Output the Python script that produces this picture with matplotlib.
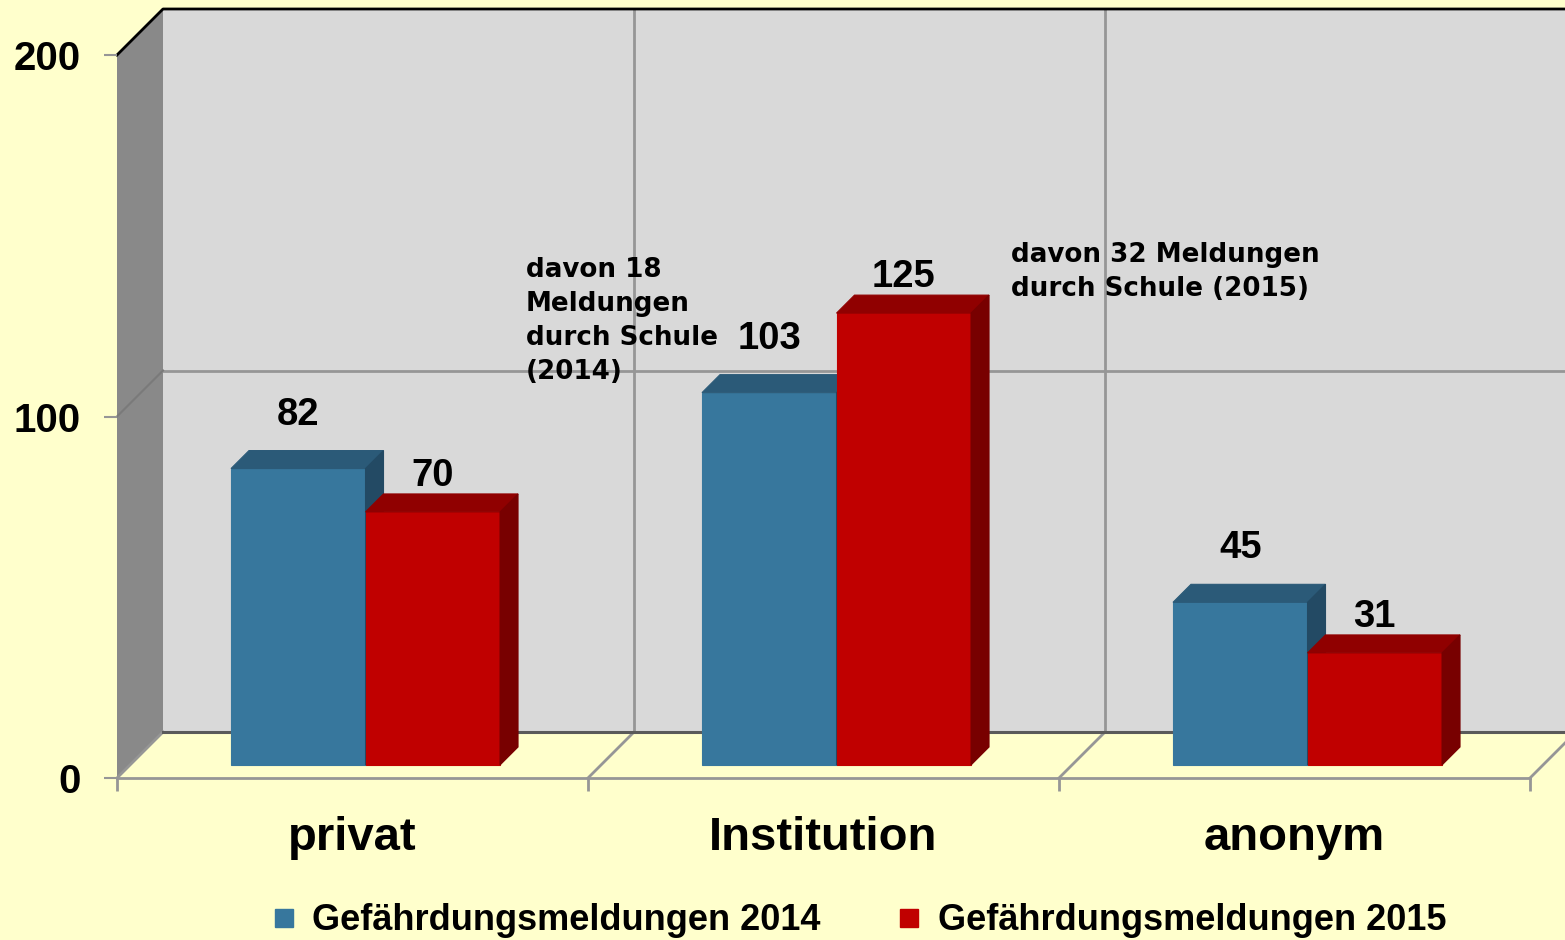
import matplotlib.pyplot as plt
from matplotlib.lines import Line2D
from matplotlib.patches import Polygon


categories = ["privat", "Institution", "anonym"]
series_names = ["Gefährdungsmeldungen 2014", "Gefährdungsmeldungen 2015"]
values_2014 = [82, 103, 45]
values_2015 = [70, 125, 31]
y_ticks = [0, 100, 200]
note_2014 = "davon 18\nMeldungen\ndurch Schule\n(2014)"
note_2015 = "davon 32 Meldungen\ndurch Schule (2015)"

BG = "#FFFFCC"
WALL = "#D9D9D9"
SIDE_WALL = "#898989"
GRID = "#969696"

# front, top, side shades for each series
BAR_COLORS = [
    ("#37779D", "#2B5A78", "#234A64"),
    ("#C00000", "#900000", "#780000"),
]

# pseudo 3d depth, expressed in data units (category units / value units)
DX = 46 / 471
DY = 46 / 3.615
BAR_W = 0.2856
F_FRONT = 0.283
F_BACK = 0.674
LABEL_OFF = [54, 36]

NUM_FONT = "Liberation Sans"
NOTE_FONT = "DejaVu Sans"


def add_poly(ax, pts, color, z, edge=None, lw=0.0):
    ax.add_patch(Polygon(pts, closed=True, facecolor=color,
                         edgecolor=edge if edge else color, linewidth=lw,
                         zorder=z, clip_on=False))


def draw_box(ax, x0, value, colors, z):
    front, top, side = colors
    dd = F_BACK - F_FRONT
    yb = F_FRONT * DY
    yt = value + F_FRONT * DY
    ox, oy = dd * DX, dd * DY
    add_poly(ax, [(x0, yb), (x0 + BAR_W, yb), (x0 + BAR_W, yt), (x0, yt)], front, z, lw=0.8)
    add_poly(ax, [(x0, yt), (x0 + BAR_W, yt), (x0 + BAR_W + ox, yt + oy), (x0 + ox, yt + oy)], top, z, lw=0.8)
    add_poly(ax, [(x0 + BAR_W, yb), (x0 + BAR_W + ox, yb + oy),
                  (x0 + BAR_W + ox, yt + oy), (x0 + BAR_W, yt)], side, z, lw=0.8)
    return x0 + BAR_W / 2, yt


def main():
    fig = plt.figure(figsize=(15.65, 9.4), dpi=100)
    fig.patch.set_facecolor(BG)
    ax = fig.add_axes([117 / 1565, 162 / 940, 1413 / 1565, 723 / 940])
    ax.set_facecolor("none")
    n = len(categories)
    ax.set_xlim(0, n)
    ax.set_ylim(0, 200)

    top = max(y_ticks)
    # walls and floor
    add_poly(ax, [(DX, DY), (n + DX + 1, DY), (n + DX + 1, top + DY), (DX, top + DY)], WALL, 0)
    add_poly(ax, [(0, 0), (DX, DY), (DX, top + DY), (0, top)], SIDE_WALL, 0.2)
    add_poly(ax, [(0, 0), (n + 1, 0), (n + 1 + DX, DY), (DX, DY)], BG, 0.1)

    # gridlines on the back wall
    for i in range(1, n):
        ax.plot([i + DX, i + DX], [DY, top + DY], color=GRID, lw=2, zorder=1, clip_on=False)
    for t in y_ticks[1:-1]:
        ax.plot([DX, n + DX + 1], [t + DY, t + DY], color=GRID, lw=2, zorder=1, clip_on=False)
        ax.plot([0, DX], [t, t + DY], color="#7A7A7A", lw=1.5, zorder=1, clip_on=False)
    for i in range(n + 1):
        ax.plot([i, i + DX], [0, DY], color=GRID, lw=2, zorder=1, clip_on=False)
    ax.plot([DX, n + DX + 1], [DY, DY], color="#5A5A5A", lw=2.2, zorder=1.2, clip_on=False)
    ax.plot([0, DX, n + DX + 1], [top, top + DY, top + DY], color="black", lw=2,
            zorder=1.2, clip_on=False)

    # bars
    z = 3
    for i in range(n):
        for j, vals in enumerate([values_2014, values_2015]):
            x0 = i + 0.5 - BAR_W + j * BAR_W + F_FRONT * DX
            cx, yt = draw_box(ax, x0, vals[i], BAR_COLORS[j], z)
            z += 1
            ax.annotate(str(vals[i]), (cx, yt), xytext=(0, LABEL_OFF[j]),
                        textcoords="offset pixels", ha="center", va="center",
                        fontsize=27.5, fontweight="bold", family=NUM_FONT,
                        zorder=20, annotation_clip=False)

    # notes
    ax.text(0.868, 144.2, note_2014, ha="left", va="top", fontsize=18.8,
            fontweight="bold", family=NOTE_FONT, linespacing=1.4, zorder=20)
    ax.text(1.898, 148.3, note_2015, ha="left", va="top", fontsize=18.8,
            fontweight="bold", family=NOTE_FONT, linespacing=1.4, zorder=20)

    # axes, ticks and labels
    for side in ["top", "right", "left"]:
        ax.spines[side].set_visible(False)
    ax.spines["bottom"].set_color(GRID)
    ax.spines["bottom"].set_linewidth(2)
    ax.spines["bottom"].set_zorder(1.5)

    ax.set_yticks(y_ticks)
    ax.set_yticklabels([str(t) for t in y_ticks], fontsize=29, fontweight="bold",
                       family=NUM_FONT)
    ax.tick_params(axis="y", length=9.4, width=1.5, color=GRID, pad=17)

    ax.set_xticks(range(n + 1))
    ax.set_xticklabels([])
    ax.tick_params(axis="x", which="major", length=9, width=2, color=GRID)
    ax.set_xticks([i + 0.5 for i in range(n)], minor=True)
    ax.set_xticklabels(categories, minor=True, fontsize=34, fontweight="bold",
                       family=NUM_FONT)
    ax.tick_params(axis="x", which="minor", length=0, pad=27)

    handles = [Line2D([], [], ls="", marker="s", markersize=12.5,
                      color=BAR_COLORS[j][0]) for j in range(2)]
    fig.legend(handles, series_names, loc="center left",
               bbox_to_anchor=(265.5 / 1565, 19 / 940), ncol=2, frameon=False,
               borderpad=0, borderaxespad=0, handlelength=1.0, handletextpad=0.29,
               columnspacing=1.95,
               prop={"family": NUM_FONT, "weight": "bold", "size": 26})

    fig.savefig("out.png", dpi=100, facecolor=fig.get_facecolor())


if __name__ == "__main__":
    main()
